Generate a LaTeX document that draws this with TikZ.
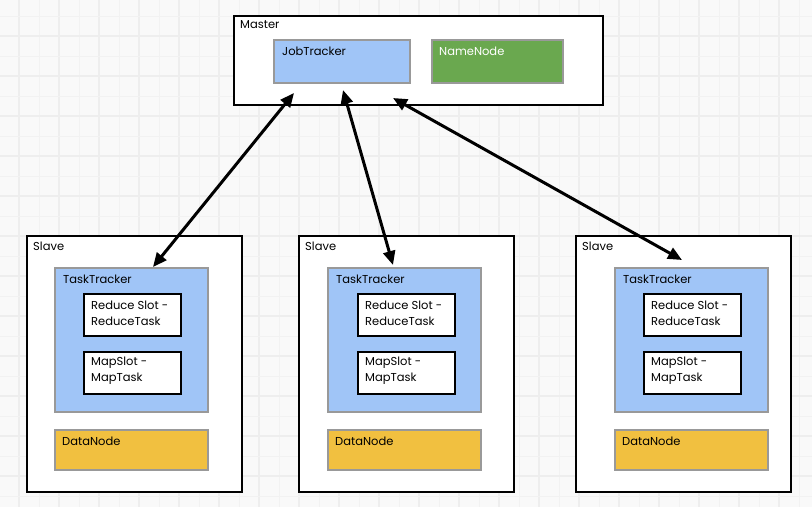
\documentclass[tikz,border=0pt]{standalone}
\usepackage{fontspec}
\setmainfont{Poppins}
\usetikzlibrary{arrows.meta}
\definecolor{bgc}{HTML}{F9F9F9}
\definecolor{gridmaj}{HTML}{EEEEEE}
\definecolor{gridmin}{HTML}{F2F2F2}
\definecolor{jtblue}{HTML}{A0C5F7}
\definecolor{nngreen}{HTML}{6AA84F}
\definecolor{dnyellow}{HTML}{F1C040}
\definecolor{bordergray}{HTML}{999999}
\tikzset{
  container/.style={draw=black, line width=2pt, fill=white, anchor=north west, inner sep=0pt},
  graybox/.style={draw=bordergray, line width=2pt, anchor=north west, inner sep=0pt},
  slotbox/.style={draw=black, line width=2pt, fill=white, anchor=north west, inner sep=0pt},
  lbl/.style={anchor=west, inner sep=0pt, align=left, font=\fontsize{11.5}{16}\selectfont},
  link/.style={line width=3pt, {Triangle[length=14pt,width=12pt]}-{Triangle[length=14pt,width=12pt]}}
}
\begin{document}
\begin{tikzpicture}[x=1pt,y=-1pt]
\fill[bgc] (0,0) rectangle (812,507);
\useasboundingbox (0,0) rectangle (812,507);
% grid
\foreach \gx in {39,79,...,799} \draw[gridmin, line width=1pt] (\gx,0) -- (\gx,507);
\foreach \gx in {19,59,...,799} \draw[gridmaj, line width=2pt] (\gx,0) -- (\gx,507);
\foreach \gy in {16,56,...,500} \draw[gridmin, line width=1pt] (0,\gy) -- (812,\gy);
\foreach \gy in {36,76,...,500} \draw[gridmaj, line width=2pt] (0,\gy) -- (812,\gy);

% master
\node[container, minimum width=369pt, minimum height=89pt] (master) at (233,15) {};
\node[lbl] (mastert) at (240,25) {Master};
\node[graybox, fill=jtblue, minimum width=136pt, minimum height=43pt] (jt) at (273,39) {};
\node[lbl] (jtt) at (282,51) {JobTracker};
\node[graybox, fill=nngreen, minimum width=131pt, minimum height=43pt] (nn) at (431,39) {};
\node[lbl, text=white] (nnt) at (439,51) {NameNode};

% slaves
\foreach \i/\sx/\tx/\rx in {1/26/54/83, 2/298/327/357, 3/575/614/643} {
  \node[container, minimum width=215pt, minimum height=256pt] (slave\i) at (\sx,235) {};
  \node[lbl] (slavet\i) at (\sx+7,246) {Slave};
  \node[graybox, fill=jtblue, minimum width=153pt, minimum height=144pt] (tt\i) at (\tx,267) {};
  \node[lbl] (ttt\i) at (\tx+9,279) {TaskTracker};
  \node[slotbox, minimum width=97pt, minimum height=42pt] (rs\i) at (\rx,293) {};
  \node[lbl] (rst\i) at (\rx+8,313) {Reduce Slot -\\ReduceTask};
  \node[slotbox, minimum width=97pt, minimum height=42pt] (ms\i) at (\rx,351) {};
  \node[lbl] (mst\i) at (\rx+8,371) {MapSlot -\\MapTask};
  \node[graybox, fill=dnyellow, minimum width=153pt, minimum height=40pt] (dn\i) at (\tx,429) {};
  \node[lbl] (dnt\i) at (\tx+8,441) {DataNode};
}

% connectors
\coordinate (jtA) at (294,93);
\coordinate (jtB) at (343,90);
\coordinate (jtC) at (393,98);
\coordinate (ttA) at (153,267);
\coordinate (ttB) at (393,265);
\coordinate (ttC) at (682,260);
\draw[link] (jtA) -- (ttA);
\draw[link] (jtB) -- (ttB);
\draw[link] (jtC) -- (ttC);
\end{tikzpicture}
\end{document}
